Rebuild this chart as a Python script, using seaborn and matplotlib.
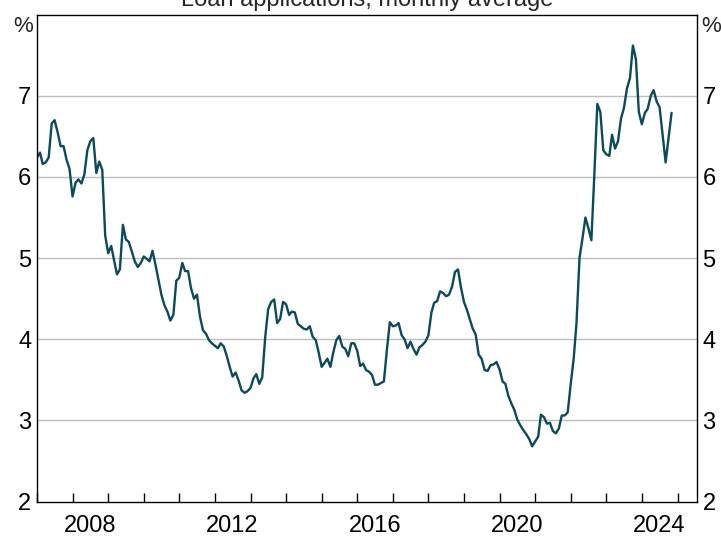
"""
Loan applications, monthly average (%), 2007-2024.
"""
import numpy as np
import pandas as pd
import matplotlib
matplotlib.use("Agg")
import matplotlib.pyplot as plt
import matplotlib.dates as mdates
import seaborn as sns

# ── Data (monthly from Jan 2007) ──
START = "2007-01-01"
RATE = [
    6.24, 6.30, 6.16, 6.18, 6.24, 6.66, 6.70, 6.55, 6.38, 6.38, 6.21, 6.10,   # 2007
    5.76, 5.93, 5.97, 5.92, 6.03, 6.33, 6.44, 6.48, 6.05, 6.19, 6.09, 5.28,   # 2008
    5.06, 5.15, 4.98, 4.80, 4.86, 5.41, 5.23, 5.20, 5.08, 4.96, 4.89, 4.94,   # 2009
    5.02, 4.99, 4.96, 5.09, 4.92, 4.73, 4.55, 4.42, 4.34, 4.23, 4.30, 4.72,   # 2010
    4.76, 4.94, 4.84, 4.84, 4.63, 4.50, 4.55, 4.28, 4.11, 4.07, 3.99, 3.95,   # 2011
    3.92, 3.89, 3.95, 3.91, 3.80, 3.66, 3.54, 3.59, 3.49, 3.37, 3.34, 3.36,   # 2012
    3.40, 3.52, 3.57, 3.45, 3.53, 4.03, 4.37, 4.46, 4.49, 4.20, 4.25, 4.46,   # 2013
    4.43, 4.30, 4.34, 4.33, 4.19, 4.16, 4.13, 4.12, 4.16, 4.03, 3.99, 3.84,   # 2014
    3.66, 3.71, 3.76, 3.66, 3.84, 3.99, 4.04, 3.91, 3.88, 3.79, 3.95, 3.95,   # 2015
    3.86, 3.67, 3.70, 3.62, 3.60, 3.56, 3.44, 3.44, 3.46, 3.48, 3.87, 4.21,   # 2016
    4.16, 4.17, 4.20, 4.05, 4.00, 3.89, 3.97, 3.88, 3.81, 3.90, 3.93, 3.97,   # 2017
    4.05, 4.33, 4.45, 4.47, 4.59, 4.57, 4.53, 4.55, 4.65, 4.83, 4.86, 4.64,   # 2018
    4.46, 4.36, 4.25, 4.13, 4.06, 3.81, 3.76, 3.62, 3.61, 3.68, 3.69, 3.72,   # 2019
    3.63, 3.48, 3.45, 3.30, 3.21, 3.13, 3.01, 2.94, 2.88, 2.83, 2.77, 2.68,   # 2020
    2.74, 2.80, 3.07, 3.04, 2.96, 2.97, 2.87, 2.84, 2.90, 3.06, 3.06, 3.10,   # 2021
    3.45, 3.77, 4.20, 5.00, 5.24, 5.50, 5.37, 5.22, 6.05, 6.90, 6.80, 6.33,   # 2022
    6.28, 6.26, 6.52, 6.35, 6.44, 6.72, 6.85, 7.09, 7.22, 7.62, 7.45, 6.80,   # 2023
    6.65, 6.79, 6.84, 7.00, 7.07, 6.93, 6.86, 6.52, 6.18, 6.48, 6.79,         # 2024
]
LABEL_YEARS = [2008, 2012, 2016, 2020, 2024]
Y_TICKS = [2, 3, 4, 5, 6, 7]
TITLE = "Loan applications, monthly average"

df = pd.DataFrame({
    "date": pd.date_range(START, periods=len(RATE), freq="MS"),
    "rate": RATE,
})

# ── Style ──
sns.set_theme(style="white")
plt.rcParams["font.family"] = ["Liberation Sans", "DejaVu Sans"]
LINE = "#0B4A5A"
GRID = "#BEBEBE"
FS = 17

fig = plt.figure(figsize=(7.21, 5.37), dpi=100)
ax = fig.add_axes([0.0513, 0.0661, 0.9154, 0.9065])

sns.lineplot(data=df, x="date", y="rate", ax=ax, color=LINE, linewidth=1.7)

ax.set_ylim(2, 8)
ax.set_xlim(pd.Timestamp("2007-01-01"), pd.Timestamp("2025-07-20"))

# horizontal gridlines
for v in Y_TICKS[1:]:
    ax.axhline(v, color=GRID, linewidth=1.0, zorder=0)

ax.set_yticks(Y_TICKS)
ax.set_yticklabels([str(v) for v in Y_TICKS])
ax.tick_params(axis="y", length=0, labelsize=FS, labelleft=True,
               labelright=True, pad=4, colors="black")

# x: year-boundary tick marks, labels in middle of the year
ax.xaxis.set_major_locator(mdates.YearLocator(1))
ax.xaxis.set_major_formatter(matplotlib.ticker.NullFormatter())
ax.xaxis.set_minor_locator(matplotlib.ticker.FixedLocator(
    [mdates.date2num(pd.Timestamp(f"{y}-07-01")) for y in LABEL_YEARS]))
ax.xaxis.set_minor_formatter(matplotlib.ticker.FixedFormatter(
    [str(y) for y in LABEL_YEARS]))
ax.tick_params(axis="x", which="major", direction="in", length=6.5,
               width=1.0, color="black", bottom=True)
ax.tick_params(axis="x", which="minor", length=0, labelsize=FS, pad=10,
               colors="black")

ax.set_xlabel("")
ax.set_ylabel("")

for sp in ax.spines.values():
    sp.set_visible(True)
    sp.set_color("black")
    sp.set_linewidth(1.0)

# unit labels at top of both axes
ax.text(-0.006, 7.85, "%", transform=ax.get_yaxis_transform(),
        ha="right", va="center", fontsize=16)
ax.text(1.006, 7.85, "%", transform=ax.get_yaxis_transform(),
        ha="left", va="center", fontsize=16)

ax.set_title(TITLE, fontsize=FS, pad=6)

fig.savefig("out.png", dpi=100, facecolor="white")
plt.close(fig)
